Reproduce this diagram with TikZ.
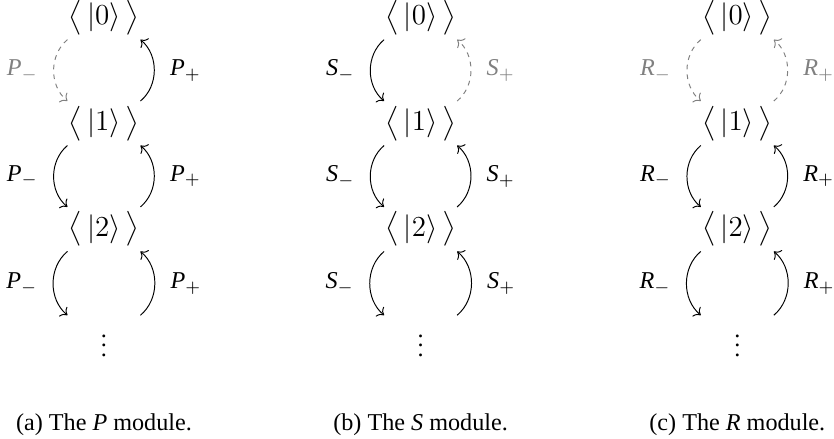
\documentclass[tikz,border=0pt]{standalone}
\usepackage{exscale}
\usepackage{fontspec}
\setmainfont{Liberation Serif}[NFSSFamily=libserif]
\DeclareSymbolFont{letters}{TU}{libserif}{m}{it}
\usetikzlibrary{arrows.meta,positioning,calc}
\newcommand{\levelket}[1]{\bigl\langle\,|#1\rangle\,\bigr\rangle}

\begin{document}
\begin{tikzpicture}[
  x=1pt, y=1pt,
  level/.style={inner xsep=0.3pt, inner ysep=1.8pt, font=\fontsize{11.5}{13.8}\selectfont},
  arrow/.style={-{To}, line width=0.4pt},
  faded/.style={gray, dash pattern=on 2pt off 2pt},
  caption/.style={anchor=base}
]
\useasboundingbox (0,0) rectangle (345,-181.6);

% P module
\node[level] (p0) at (43,-7.2) {$\levelket{0}$};
\node[level] (p1) at (43,-51) {$\levelket{1}$};
\node[level] (p2) at (43,-94.8) {$\levelket{2}$};
\node (pdots) at (43,-140) {$\vdots$};
\coordinate (pL) at ($(p2.south west)+(0,-26.4)$);
\coordinate (pR) at ($(p2.south east)+(0,-26.4)$);
\draw[arrow, faded] (p0.south west) to[bend right=50] node[left=3pt] {$P_-$} (p1.north west);
\draw[arrow] (p1.north east) to[bend right=50] node[right=3pt] {$P_+$} (p0.south east);
\draw[arrow] (p1.south west) to[bend right=50] node[left=3pt] {$P_-$} (p2.north west);
\draw[arrow] (p2.north east) to[bend right=50] node[right=3pt] {$P_+$} (p1.south east);
\draw[arrow] (p2.south west) to[bend right=50] node[left=3pt] {$P_-$} (pL);
\draw[arrow] (pR) to[bend right=50] node[right=3pt] {$P_+$} (p2.south east);
\node[caption] (pcap) at (43,-178) {(a) The $P$ module.};

% S module
\node[level] (s0) at (174,-7.2) {$\levelket{0}$};
\node[level] (s1) at (174,-51) {$\levelket{1}$};
\node[level] (s2) at (174,-94.8) {$\levelket{2}$};
\node (sdots) at (174,-140) {$\vdots$};
\coordinate (sL) at ($(s2.south west)+(0,-26.4)$);
\coordinate (sR) at ($(s2.south east)+(0,-26.4)$);
\draw[arrow] (s0.south west) to[bend right=50] node[left=3pt] {$S_-$} (s1.north west);
\draw[arrow, faded] (s1.north east) to[bend right=50] node[right=3pt] {$S_+$} (s0.south east);
\draw[arrow] (s1.south west) to[bend right=50] node[left=3pt] {$S_-$} (s2.north west);
\draw[arrow] (s2.north east) to[bend right=50] node[right=3pt] {$S_+$} (s1.south east);
\draw[arrow] (s2.south west) to[bend right=50] node[left=3pt] {$S_-$} (sL);
\draw[arrow] (sR) to[bend right=50] node[right=3pt] {$S_+$} (s2.south east);
\node[caption] (scap) at (174,-178) {(b) The $S$ module.};

% R module
\node[level] (r0) at (305,-7.2) {$\levelket{0}$};
\node[level] (r1) at (305,-51) {$\levelket{1}$};
\node[level] (r2) at (305,-94.8) {$\levelket{2}$};
\node (rdots) at (305,-140) {$\vdots$};
\coordinate (rL) at ($(r2.south west)+(0,-26.4)$);
\coordinate (rR) at ($(r2.south east)+(0,-26.4)$);
\draw[arrow, faded] (r0.south west) to[bend right=50] node[left=3pt] {$R_-$} (r1.north west);
\draw[arrow, faded] (r1.north east) to[bend right=50] node[right=3pt] {$R_+$} (r0.south east);
\draw[arrow] (r1.south west) to[bend right=50] node[left=3pt] {$R_-$} (r2.north west);
\draw[arrow] (r2.north east) to[bend right=50] node[right=3pt] {$R_+$} (r1.south east);
\draw[arrow] (r2.south west) to[bend right=50] node[left=3pt] {$R_-$} (rL);
\draw[arrow] (rR) to[bend right=50] node[right=3pt] {$R_+$} (r2.south east);
\node[caption] (rcap) at (305,-178) {(c) The $R$ module.};
\end{tikzpicture}
\end{document}
